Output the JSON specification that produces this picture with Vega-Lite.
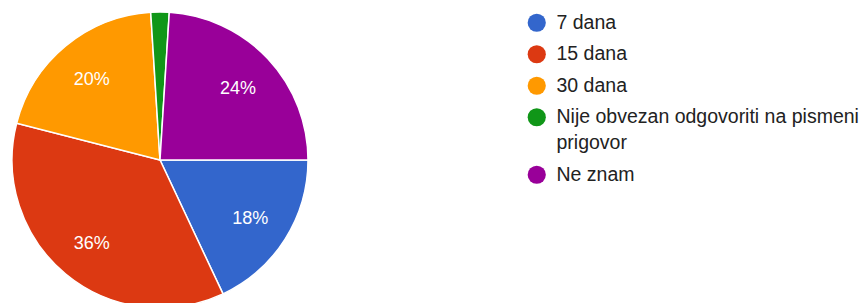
{
  "$schema": "https://vega.github.io/schema/vega-lite/v6.json",
  "autosize": {"type": "none"},
  "padding": {"left": 0, "top": 0, "right": 544, "bottom": 0},
  "width": 320,
  "height": 320,
  "background": "white",
  "config": {"view": {"stroke": null}, "font": "Liberation Sans", "style": {"guide-label": {"lineHeight": 26}}},
  "data": {
    "values": [
      {"answer": "7 dana", "pct": 18, "label": "18%", "ord": 1},
      {"answer": "15 dana", "pct": 36, "label": "36%", "ord": 2},
      {"answer": "30 dana", "pct": 20, "label": "20%", "ord": 3},
      {"answer": "Nije obvezan odgovoriti na pismeni prigovor", "pct": 2, "label": "", "ord": 4},
      {"answer": "Ne znam", "pct": 24, "label": "24%", "ord": 5}
    ]
  },
  "encoding": {
    "theta": {"field": "pct", "type": "quantitative", "stack": true, "scale": {"range": [1.5707963, 7.8539816]}},
    "order": {"field": "ord", "type": "quantitative"},
    "color": {
      "field": "answer",
      "type": "nominal",
      "sort": ["7 dana", "15 dana", "30 dana", "Nije obvezan odgovoriti na pismeni prigovor", "Ne znam"],
      "scale": {
        "domain": ["7 dana", "15 dana", "30 dana", "Nije obvezan odgovoriti na pismeni prigovor", "Ne znam"],
        "range": ["#3366cc", "#dc3912", "#ff9900", "#109618", "#990099"]
      },
      "legend": {
        "title": null,
        "orient": "none",
        "legendX": 527,
        "legendY": 13,
        "padding": 0,
        "symbolType": "circle",
        "symbolSize": 330,
        "symbolStrokeWidth": 0,
        "labelFont": "Liberation Sans",
        "labelFontSize": 19.5,
        "labelColor": "#222222",
        "labelOffset": 10,
        "labelLimit": 400,
        "rowPadding": 10.5,
        "labelExpr": "datum.label == 'Nije obvezan odgovoriti na pismeni prigovor' ? ['Nije obvezan odgovoriti na pismeni', 'prigovor'] : datum.label"
      }
    }
  },
  "layer": [
    {"mark": {"type": "arc", "radius": 148, "stroke": "white", "strokeWidth": 1.5}},
    {
      "mark": {"type": "text", "radius": 107, "fill": "white", "fontSize": 18, "font": "Liberation Sans", "dy": 2},
      "encoding": {"text": {"field": "label", "type": "nominal"}, "color": {"value": "white"}}
    }
  ]
}
